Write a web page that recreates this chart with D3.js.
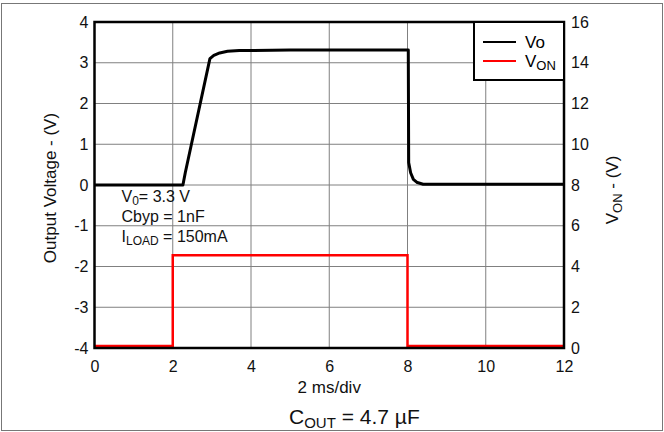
<!DOCTYPE html>
<html>
<head>
<meta charset="utf-8">
<script src="https://cdn.jsdelivr.net/npm/d3@7"></script>
<style>
  body { margin: 0; background: #fff; }
  svg { font-family: "Liberation Sans", Arial, sans-serif; }
  .grid line { stroke: #808080; stroke-width: 1; }
  .axis text { font-size: 16px; fill: #111; }
</style>
</head>
<body>
<svg id="chart"></svg>
<script>
// time in ms
const voTime = [0, 2.26, 2.32, 2.95, 3.05, 3.2, 3.4, 3.7, 5, 8.02, 8.03, 8.08, 8.15, 8.25, 8.4, 9, 12];
const voValue = [0, 0, 0.3, 3.1, 3.18, 3.24, 3.28, 3.3, 3.31, 3.31, 0.55, 0.3, 0.14, 0.06, 0.02, 0.02, 0.02];

const vonTime = [0, 2.0, 2.0, 8.0, 8.0, 12];
const vonValue = [0.1, 0.1, 4.55, 4.55, 0.1, 0.1];

const xTicks = [0, 2, 4, 6, 8, 10, 12];
const yLeftTicks = [-4, -3, -2, -1, 0, 1, 2, 3, 4];
const yRightTicks = [0, 2, 4, 6, 8, 10, 12, 14, 16];

const annotations = [
  { main: 'V', sub: '0', rest: '= 3.3 V' },
  { main: 'Cbyp = 1nF', sub: '', rest: '' },
  { main: 'I', sub: 'LOAD', rest: ' = 150mA' }
];

const W = 664, H = 432;
const margin = { top: 22, right: 100, bottom: 84, left: 94.5 };
const width = W - margin.left - margin.right;
const height = H - margin.top - margin.bottom;

const svg = d3.select('#chart').attr('width', W).attr('height', H);

// outer frame
svg.append('rect')
  .attr('x', 1.5).attr('y', 3.5)
  .attr('width', W - 3).attr('height', H - 5)
  .attr('fill', 'none').attr('stroke', '#777').attr('stroke-width', 1);

const chart = svg.append('g').attr('transform', `translate(${margin.left},${margin.top})`);

const x = d3.scaleLinear().domain([0, 12]).range([0, width]);
const yL = d3.scaleLinear().domain([-4, 4]).range([height, 0]);
const yR = d3.scaleLinear().domain([0, 16]).range([height, 0]);

// grid
const grid = chart.append('g').attr('class', 'grid');
grid.selectAll('.vg').data(xTicks.slice(1, -1)).join('line')
  .attr('x1', d => x(d)).attr('x2', d => x(d))
  .attr('y1', 0).attr('y2', height);
grid.selectAll('.hg').data(yLeftTicks.slice(1, -1)).join('line')
  .attr('x1', 0).attr('x2', width)
  .attr('y1', d => yL(d)).attr('y2', d => yL(d));

// axes (labels only)
const fmt = d => String(d);
const xAxis = d3.axisBottom(x).tickValues(xTicks).tickSize(0).tickPadding(13).tickFormat(fmt);
const yAxisL = d3.axisLeft(yL).tickValues(yLeftTicks).tickSize(0).tickPadding(6).tickFormat(fmt);
const yAxisR = d3.axisRight(yR).tickValues(yRightTicks).tickSize(0).tickPadding(7).tickFormat(fmt);

chart.append('g').attr('class', 'axis').attr('transform', `translate(0,${height})`).call(xAxis)
  .call(g => g.select('.domain').remove());
chart.append('g').attr('class', 'axis').call(yAxisL)
  .call(g => g.select('.domain').remove());
chart.append('g').attr('class', 'axis').attr('transform', `translate(${width},0)`).call(yAxisR)
  .call(g => g.select('.domain').remove());

// lines
const voData = voTime.map((t, i) => ({ t: t, v: voValue[i] }));
const vonData = vonTime.map((t, i) => ({ t: t, v: vonValue[i] }));

chart.append('path').datum(vonData)
  .attr('fill', 'none').attr('stroke', '#ff0000').attr('stroke-width', 2.5)
  .attr('d', d3.line().x(d => x(d.t)).y(d => yR(d.v)));

chart.append('path').datum(voData)
  .attr('fill', 'none').attr('stroke', '#000').attr('stroke-width', 3)
  .attr('stroke-linejoin', 'round')
  .attr('d', d3.line().x(d => x(d.t)).y(d => yL(d.v)));

// plot border
chart.append('rect').attr('width', width).attr('height', height)
  .attr('fill', 'none').attr('stroke', '#000').attr('stroke-width', 2.5);

// annotations
const ann = chart.append('g').attr('font-size', 16).attr('fill', '#111');
annotations.forEach((a, i) => {
  const t = ann.append('text').attr('x', 27).attr('y', 180 + i * 20);
  t.append('tspan').text(a.main);
  if (a.sub) t.append('tspan').attr('font-size', 12).attr('dy', 3).text(a.sub);
  if (a.rest) t.append('tspan').attr('dy', a.sub ? -3 : 0).text(a.rest);
});

// legend
const leg = chart.append('g').attr('transform', `translate(${width - 90},0)`);
leg.append('rect').attr('width', 90).attr('height', 58)
  .attr('fill', '#fff').attr('stroke', '#000').attr('stroke-width', 2);
leg.append('line').attr('x1', 9).attr('x2', 42).attr('y1', 20).attr('y2', 20)
  .attr('stroke', '#000').attr('stroke-width', 2);
leg.append('line').attr('x1', 9).attr('x2', 42).attr('y1', 39).attr('y2', 39)
  .attr('stroke', '#ff0000').attr('stroke-width', 2);
leg.append('text').attr('x', 51).attr('y', 26).attr('font-size', 17).text('Vo');
const lt = leg.append('text').attr('x', 51).attr('y', 45).attr('font-size', 17);
lt.append('tspan').text('V');
lt.append('tspan').attr('font-size', 13).attr('dy', 3).text('ON');

// axis titles
svg.append('text')
  .attr('transform', `translate(56,${margin.top + height / 2 + 3}) rotate(-90)`)
  .attr('text-anchor', 'middle').attr('font-size', 17).attr('fill', '#111')
  .text('Output Voltage - (V)');

const rt = svg.append('text')
  .attr('transform', `translate(618,${margin.top + height / 2 + 5}) rotate(-90)`)
  .attr('text-anchor', 'middle').attr('font-size', 17).attr('fill', '#111');
rt.append('tspan').text('V');
rt.append('tspan').attr('font-size', 13).attr('dy', 4).text('ON');
rt.append('tspan').attr('dy', -4).text(' - (V)');

svg.append('text')
  .attr('x', margin.left + width / 2).attr('y', 393)
  .attr('text-anchor', 'middle').attr('font-size', 17).attr('fill', '#111')
  .text('2 ms/div');

const ct = svg.append('text')
  .attr('x', 289).attr('y', 424)
  .attr('font-size', 21).attr('fill', '#111');
ct.append('tspan').text('C');
ct.append('tspan').attr('font-size', 15).attr('dy', 4).text('OUT');
ct.append('tspan').attr('dy', -4).text(' = 4.7 µF');
</script>
</body>
</html>
